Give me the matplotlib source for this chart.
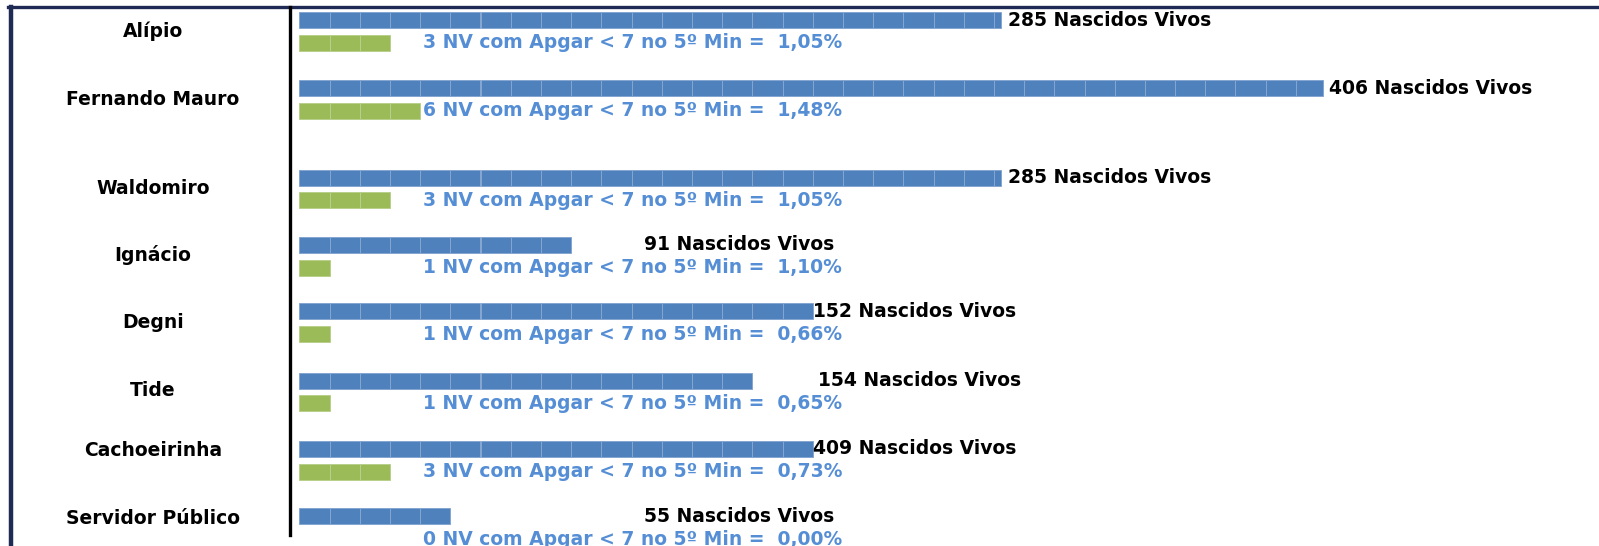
import numpy as np
import matplotlib.pyplot as plt
from matplotlib.lines import Line2D

# Nascidos vivos e NV com Apgar < 7 no 5º minuto, por unidade
unidades = ['Alípio', 'Fernando Mauro', 'Waldomiro', 'Ignácio', 'Degni',
            'Tide', 'Cachoeirinha', 'Servidor Público']
nascidos = [285, 406, 285, 91, 152, 154, 409, 55]
nv_apgar = [3, 6, 3, 1, 1, 1, 3, 0]
# comprimento das barras (em blocos)
blocos_nv = [23.25, 33.9, 23.25, 9, 17, 15, 17, 5]
blocos_apgar = [3, 4, 3, 1, 1, 1, 3, 0]

W, H = 1599, 546
x0, unit = 299.3, 30.2   # pixel where bars start, pixels per block


def px(x):
    return (x - x0) / unit


# layout (pixels from top)
row_y = [20.3, 88.0, 177.6, 245.0, 311.3, 380.7, 449.0, 516.4]
lab_y = [31.0, 99.3, 188.8, 255.0, 322.5, 391.0, 450.0, 519.0]
val_x = [1008, 1329, 1008, 644.5, 813, 818, 813, 644.5]
gap = 22.7
bar_h = 16

BLUE = '#4F81BD'
GREEN = '#9BBB59'
TXT_BLUE = '#558ED5'

fig = plt.figure(figsize=(W / 100, H / 100), dpi=100)
ax = fig.add_axes([0, 0, 1, 1])
ax.set_xlim(px(0), px(W))
ax.set_ylim(H, 0)
ax.axis('off')


def blocks(y, length, color, edge):
    n = int(np.ceil(length))
    if n == 0:
        return
    lefts = np.arange(n)
    widths = np.minimum(1.0, length - lefts)
    ax.barh(np.full(n, y), widths, left=lefts, height=bar_h,
            color=color, edgecolor=edge, linewidth=0.7)


font = dict(family='DejaVu Sans', fontweight='bold')
for i, nome in enumerate(unidades):
    yb = row_y[i]
    yg = yb + gap
    blocks(yb, blocos_nv[i], BLUE, '#86A6D2')
    blocks(yg, blocos_apgar[i], GREEN, '#B9D08C')

    ax.text(px(153), lab_y[i], nome, ha='center', va='center',
            fontsize=13.5, color='black', **font)
    ax.text(px(val_x[i]), yb, f'{nascidos[i]} Nascidos Vivos',
            ha='left', va='center', fontsize=13.5, color='black', **font)
    pct = f'{100 * nv_apgar[i] / nascidos[i]:.2f}'.replace('.', ',')
    ax.text(px(423), yg,
            f'{nv_apgar[i]} NV com Apgar < 7 no 5º Min =  {pct}%',
            ha='left', va='center', fontsize=13.5, color=TXT_BLUE, **font)

# frame and axis line
fig.add_artist(Line2D([8 / W, 1], [1 - 7 / H, 1 - 7 / H],
                      color='#1F2A55', lw=2.4, transform=fig.transFigure))
fig.add_artist(Line2D([10.5 / W, 10.5 / W], [0, 1 - 7 / H],
                      color='#1F2A55', lw=3.2, transform=fig.transFigure))
fig.add_artist(Line2D([290 / W, 290 / W], [1 - 535 / H, 1 - 7 / H],
                      color='black', lw=2.4, transform=fig.transFigure))

fig.savefig('out.png', dpi=100)
